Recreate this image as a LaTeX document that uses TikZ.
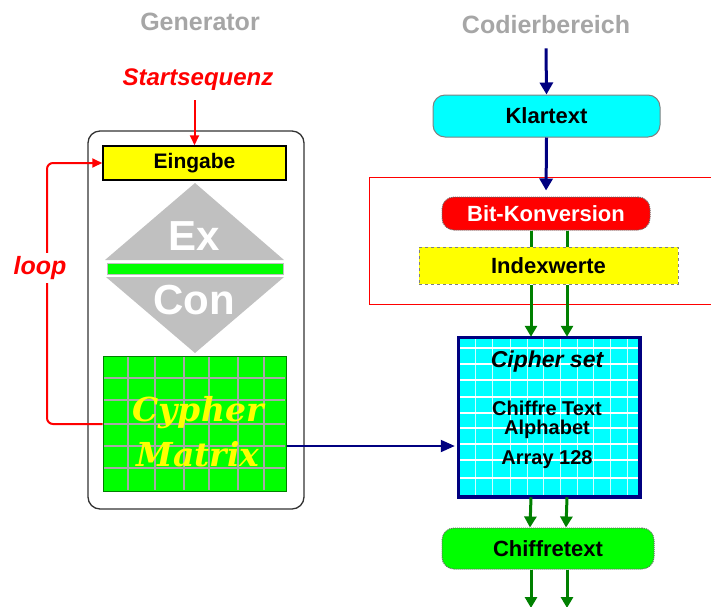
\documentclass[tikz,border=0pt]{standalone}
\usepackage{fontspec}
\setmainfont{Liberation Sans}
\newfontfamily\cyfont{DejaVu Serif}
\usetikzlibrary{arrows.meta}
\definecolor{navy}{HTML}{000080}
\definecolor{dgreen}{HTML}{008000}
\definecolor{lgreen}{HTML}{00FF00}
\definecolor{cyanc}{HTML}{00FFFF}
\definecolor{yel}{HTML}{FFFF00}
\definecolor{redc}{HTML}{FF0000}
\definecolor{titlegray}{HTML}{A6A6A6}
\definecolor{diagray}{HTML}{C0C0C0}
\definecolor{gridgray}{HTML}{A8A8A8}
\newcommand\myfs[1]{\fontsize{#1}{#1}\selectfont}
\begin{document}
\begin{tikzpicture}[x=1pt,y=-1pt,
  title/.style={text=titlegray,font=\myfs{25}\bfseries,inner sep=0pt},
  redlabel/.style={text=redc,font=\myfs{24}\bfseries\itshape,inner sep=1pt},
  boxtext/.style={font=\myfs{20}\bfseries,align=center,inner sep=0pt},
  navyarrow/.style={draw=navy,line width=3pt,-{Triangle[length=12pt,width=13pt]}},
  bluearrow/.style={draw=navy,line width=2pt,-{Triangle[length=14pt,width=12pt]}},
  greenarrow/.style={draw=dgreen,line width=3pt,-{Triangle[length=11pt,width=12pt]}},
  greenline/.style={draw=dgreen,line width=3pt},
  redarrow/.style={draw=redc,line width=2pt,-{Triangle[length=10pt,width=9pt]}},
]
\useasboundingbox[fill=white] (0,0) rectangle (711,606);

% titles
\node[title] (gen) at (200,22) {Generator};
\node[title] (cod) at (546,25) {Codierbereich};
\node[redlabel] (start) at (198,80) {Startsequenz};

% generator frame
\node[draw=black!80,line width=1.3pt,rounded corners=12pt,minimum width=216pt,minimum height=378pt,inner sep=0pt] (genbox) at (196,320) {};

% Eingabe
\node[draw=black,line width=1.5pt,fill=yel,minimum width=183pt,minimum height=34pt,inner sep=0pt,font=\myfs{21}\bfseries] (eingabe) at (194.5,163) {Eingabe};

% diamond Ex/Con
\fill[diagray] (105,260) -- (195,183) -- (284,260) -- cycle;
\fill[diagray] (106,277) -- (195,353) -- (284,277) -- cycle;
\draw[draw=diagray,line width=1pt,fill=lgreen] (107,263) rectangle (283,274);
\node[text=white,font=\myfs{42}\bfseries,inner sep=0pt] (ex) at (194,236) {Ex};
\node[text=white,font=\myfs{42}\bfseries,inner sep=0pt] (con) at (194,300) {Con};

% Cypher matrix
\node[draw=dgreen,line width=1pt,fill=lgreen,minimum width=183pt,minimum height=135pt,inner sep=0pt] (matrix) at (194.5,423.5) {};
\foreach \gx in {128,155,184,209,238,264}
  \draw[gridgray,line width=1.5pt] (\gx,357) -- (\gx,490);
\foreach \gy in {378,400,424,446,468}
  \draw[gridgray,line width=1.5pt] (104,\gy) -- (285,\gy);
\node[text=yel,font=\cyfont\bfseries\itshape\fontsize{33}{45}\selectfont,align=center,inner sep=0pt] (cyph) at (198,432) {Cypher\\Matrix};

% loop arrow
\draw[redarrow,rounded corners=6pt] (matrix.west |- 0,424) -- (47,424) -- (47,163) -- (eingabe.west);
\node[redlabel,fill=white,inner sep=3pt,font=\myfs{25}\bfseries\itshape] (loop) at (40,268) {loop};

% Startsequenz arrow
\draw[redarrow] (eingabe.north |- 0,100) -- (eingabe.north);

% right side
\draw[draw=redc,line width=1pt] (715,177) -- (369,177) -- (369,304) -- (715,304);

\node[draw=gray,line width=1pt,fill=cyanc,rounded corners=12pt,minimum width=227pt,minimum height=42pt,inner sep=0pt,font=\myfs{22}\bfseries] (klartext) at (546.5,116) {Klartext};
\node[draw=black!60,densely dotted,line width=1pt,fill=redc,rounded corners=12pt,minimum width=208pt,minimum height=33pt,inner sep=0pt,text=white,font=\myfs{22}\bfseries] (bitk) at (546,213.5) {Bit-Konversion};
\node[draw=gray,dashed,line width=1pt,fill=yel,minimum width=259pt,minimum height=37pt,inner sep=0pt,font=\myfs{22}\bfseries] (index) at (548.5,265.5) {Indexwerte};

% cipher set
\node[draw=navy,line width=2.5pt,fill=cyanc,minimum width=180pt,minimum height=158pt,inner sep=0pt] (cipher) at (549,417) {};
\foreach \gy in {348,364,380,397,413,428,444,460,478}
  \draw[white,line width=1.2pt] (460,\gy) -- (638,\gy);
\foreach \gx in {475,492,510,527,543,560,577,593,610,627}
  \draw[white,line width=1pt,opacity=0.8] (\gx,339) -- (\gx,495);
\draw[draw=navy,line width=2.5pt] (cipher.north west) rectangle (cipher.south east);
\node[font=\myfs{23}\bfseries\itshape,inner sep=0pt] (cset) at (547,362) {Cipher set};
\node[boxtext] (ctext) at (547,408) {Chiffre Text};
\node[boxtext] (alpha) at (547,429) {Alphabet};
\node[boxtext] (arr) at (547,460) {Array 128};

\node[draw=black!60,densely dotted,line width=1pt,fill=lgreen,rounded corners=12pt,minimum width=212pt,minimum height=41pt,inner sep=0pt,font=\myfs{22}\bfseries] (chiffre) at (548,548.5) {Chiffretext};

\coordinate (out1) at (531,608);
\coordinate (out2) at (567,608);

% navy arrows
\draw[navyarrow] ([yshift=-14pt]cod.south) -- (klartext.north);
\draw[navyarrow,shorten >=6pt] (klartext.south) -- (bitk.north);

% green double arrows
\foreach \dx in {-18,18}{
  \draw[greenline] ([xshift=\dx pt]bitk.south -| cipher.north) -- ([xshift=\dx pt]index.north -| cipher.north);
  \draw[greenarrow] ([xshift=\dx pt]index.south -| cipher.north) -- ([xshift=\dx pt]cipher.north);
  \draw[greenarrow] ([xshift=\dx pt]cipher.south) -- ([xshift=\dx pt]chiffre.north);
}
\draw[greenarrow] ([xshift=-17pt]chiffre.south) -- (out1);
\draw[greenarrow] ([xshift=19pt]chiffre.south) -- (out2);

% Cypher Matrix to Cipher set
\draw[bluearrow] (matrix.east |- 0,446) -- ([xshift=-3pt]cipher.west |- 0,446);
\end{tikzpicture}
\end{document}
